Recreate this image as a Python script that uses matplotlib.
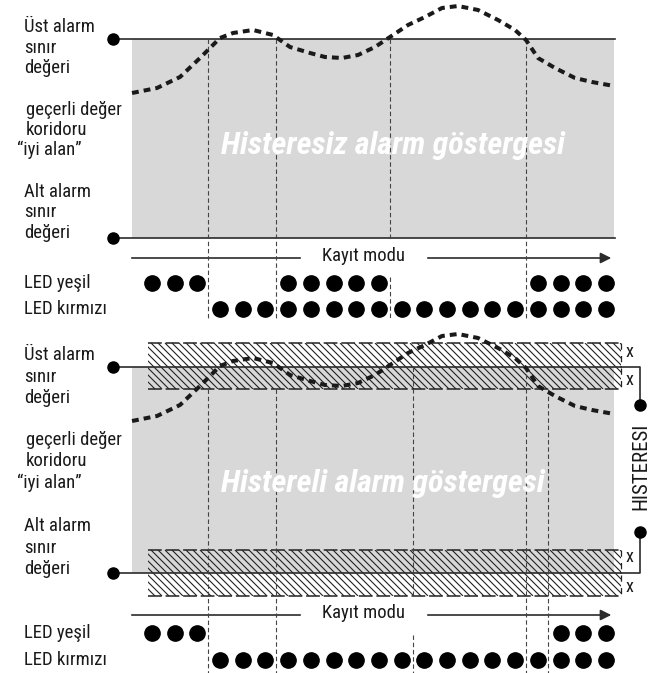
import numpy as np
import matplotlib.pyplot as plt
from matplotlib.collections import LineCollection
from matplotlib.patches import Rectangle

plt.rcParams['font.family'] = ['Roboto Condensed', 'Liberation Sans Narrow', 'Roboto', 'DejaVu Sans']

# process value: x position and offset (px) from the upper alarm limit (negative = above)
curve_x = [132, 157, 180, 200, 208, 220, 233, 253, 273, 290, 310, 325, 342, 358, 375,
           390, 408, 425, 442, 458, 478, 498, 515, 526, 538, 555, 575, 592, 614]
curve_off = [54, 49, 38, 19, 11, -1, -6, -9, -4, 8, 14, 18, 19, 16, 8,
             -2, -14, -22, -31, -33, -29, -19, -9, 1, 19, 29, 39, 43, 47]

# alarm limit lines of the two panels
upper_lim = [39, 367]
lower_lim = [238, 573]

# switching instants (dashed vertical lines)
top_switch = [208, 276, 390, 526]
bot_switch = [208, 276, 413, 526, 548]

# LED states per slot (slots -3 .. 17)
led_slots = list(range(-3, 18))
top_green = [1, 1, 1, 0, 0, 0, 1, 1, 1, 1, 1, 0, 0, 0, 0, 0, 0, 1, 1, 1, 1]
top_red = [0, 0, 0] + [1] * 18
bot_green = [1, 1, 1] + [0] * 15 + [1, 1, 1]
bot_red = [0, 0, 0] + [1] * 18

top_labels = [("Üst alarm", 24, 27), ("sınır", 24, 48), ("değeri", 24, 68),
              ("geçerli değer", 26, 110), ("koridoru", 26, 130), ("“iyi alan”", 17, 150),
              ("Alt alarm", 24, 192), ("sınır", 24, 212), ("değeri", 24, 233),
              ("LED yeşil", 24, 283), ("LED kırmızı", 24, 309)]
bot_labels = [("Üst alarm", 24, 355), ("sınır", 24, 377), ("değeri", 24, 398),
              ("geçerli değer", 26, 440), ("koridoru", 26, 461), ("“iyi alan”", 17, 483),
              ("Alt alarm", 24, 526), ("sınır", 24, 548), ("değeri", 24, 569),
              ("LED yeşil", 24, 633), ("LED kırmızı", 24, 660)]

fig = plt.figure(figsize=(6.55, 6.73), dpi=100)
ax = fig.add_axes([0, 0, 1, 1])
ax.set_xlim(0, 655)
ax.set_ylim(673, 0)
ax.axis('off')

GRAY = '#d8d8d8'
DARK = '#2b2b2b'
FS = 13.5


def hatch_band(y0, y1, x0=148, x1=621, step=7):
    rect = Rectangle((x0, y0), x1 - x0, y1 - y0, fill=False, lw=0)
    ax.add_patch(rect)
    h = y1 - y0
    segs = [[(x, y0), (x + h, y1)] for x in np.arange(x0 - h, x1 + step, step)]
    lc = LineCollection(segs, colors='#222222', linewidths=0.8, zorder=3)
    ax.add_collection(lc)
    lc.set_clip_path(rect)
    for y in (y0, y1):
        ax.plot([x0, x1], [y, y], color='#222222', lw=1.1, dashes=(9, 2.5), zorder=4)
    ax.plot([x1, x1], [y0, y1], color='#222222', lw=0.9, dashes=(5, 5), zorder=4)


def vline(x, y0, y1):
    ax.plot([x, x], [y0, y1], color='#444444', lw=0.8, dashes=(4, 2.5), zorder=5)


def leds(y, states):
    xs = [220 + 22.7 * k for k, s in zip(led_slots, states) if s]
    ax.plot(xs, [y] * len(xs), 'o', color='black', ms=11, zorder=6)


def kayit(y):
    ax.plot([132, 300], [y, y], color=DARK, lw=1.2)
    ax.text(322, y - 2, "Kayıt modu", fontsize=FS, va='center', ha='left', color='#1a1a1a')
    ax.annotate('', xy=(614, y), xytext=(425, y),
                arrowprops=dict(arrowstyle='-|>', color=DARK, lw=1.2, mutation_scale=16))


for i in range(2):
    up, lo = upper_lim[i], lower_lim[i]
    ax.add_patch(Rectangle((132, up), 614 - 132, lo - up, color=GRAY, lw=0, zorder=1))
    if i == 1:
        hatch_band(up - 24, up + 22)
        hatch_band(lo - 23, lo + 23)
    xend = 615 if i == 0 else 621
    for y in (up, lo):
        ax.plot([113, xend], [y, y], color=DARK, lw=1.2, zorder=4)
        ax.plot(113, y, 'o', color='black', ms=8, zorder=6)
    ax.plot(curve_x, [up + v for v in curve_off], color='#1a1a1a', lw=2.9,
            linestyle=(0, (1.7, 1.25)), zorder=7)

# top panel
for x in top_switch:
    if x == 390:
        vline(x, 39, 238)
        vline(x, 277, 320)
    else:
        vline(x, 39, 320)
kayit(258)
leds(283, top_green)
leds(309, top_red)
ax.text(393, 146, "Histeresiz alarm göstergesi", color='white', fontsize=23,
        fontweight='bold', fontstyle='italic', ha='center', va='center', zorder=8)

# bottom panel
for x in bot_switch:
    if x == 413:
        vline(x, 367, 596)
        vline(x, 635, 673)
    elif x == 526:
        vline(x, 367, 673)
    else:
        vline(x, 389, 673)
kayit(615)
leds(633, bot_green)
leds(660, bot_red)
ax.text(383, 483, "Histereli alarm göstergesi", color='white', fontsize=23,
        fontweight='bold', fontstyle='italic', ha='center', va='center', zorder=8)

# hysteresis bracket
ax.plot([621, 640, 640], [367, 367, 405], color=DARK, lw=1.2)
ax.plot(640, 405, 'o', color='black', ms=8)
ax.plot([640, 640, 621], [532, 573, 573], color=DARK, lw=1.2)
ax.plot(640, 532, 'o', color='black', ms=8)
for y in (352, 380, 557, 587):
    ax.text(626, y, "x", fontsize=13, va='center', ha='left', color='#1a1a1a')
ax.text(641, 466, "HISTERESI", fontsize=15, rotation=90, ha='center', va='center',
        color='#1a1a1a')

for labels in (top_labels, bot_labels):
    for txt, x, y in labels:
        ax.text(x, y, txt, fontsize=FS, ha='left', va='center', color='#1a1a1a')

fig.savefig('out.png', dpi=100)
